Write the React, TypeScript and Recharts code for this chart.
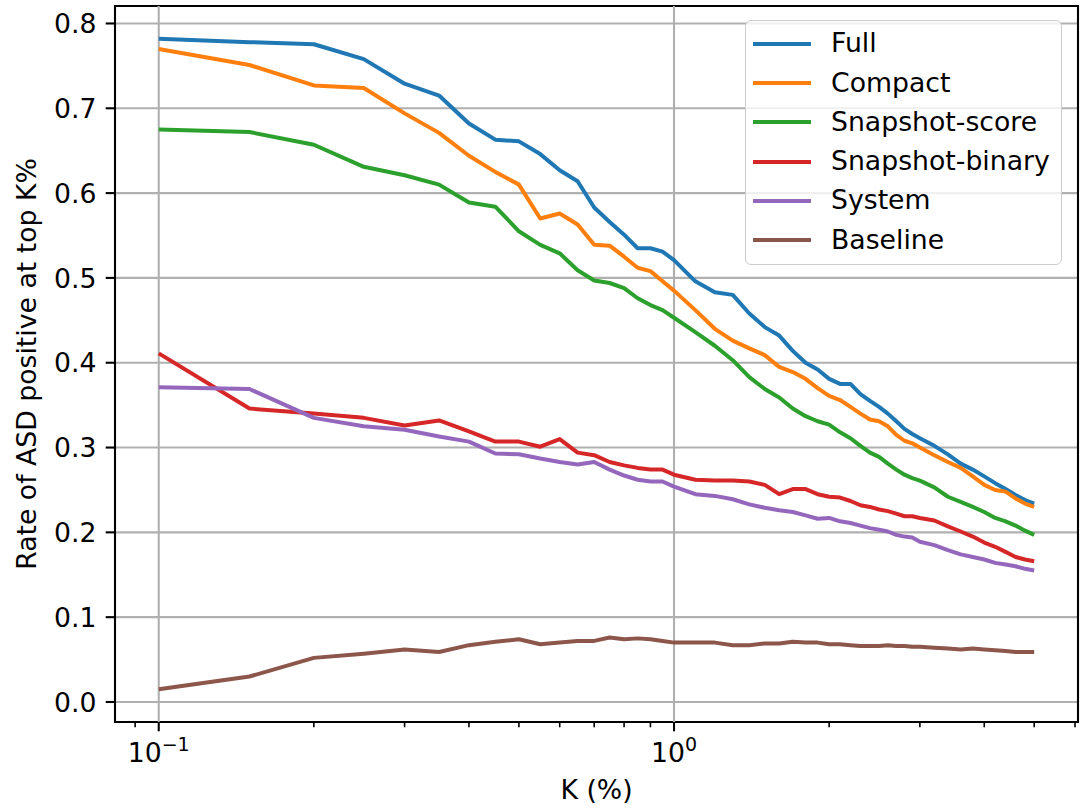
import React from 'react';
import {
  LineChart, Line, XAxis, YAxis, CartesianGrid, ReferenceLine, ReferenceArea, Legend, Label,
} from 'recharts';

// K (%) sample points
const kValues = [
  0.1, 0.15, 0.2, 0.25, 0.3, 0.35, 0.4, 0.45, 0.5, 0.55, 0.6, 0.65, 0.7, 0.75, 0.8, 0.85, 0.9, 0.95, 1.0,
  1.1, 1.2, 1.3, 1.4, 1.5, 1.6, 1.7, 1.8, 1.9, 2.0, 2.1, 2.2, 2.3, 2.4, 2.5, 2.6, 2.7, 2.8, 2.9, 3.0,
  3.2, 3.4, 3.6, 3.8, 4.0, 4.2, 4.4, 4.6, 4.8, 5.0,
];

const full = [
  0.782, 0.778, 0.7755, 0.758, 0.729, 0.715, 0.682, 0.663, 0.661, 0.646, 0.627, 0.614, 0.583, 0.566, 0.551, 0.535, 0.535, 0.531, 0.521,
  0.496, 0.483, 0.480, 0.458, 0.442, 0.432, 0.414, 0.400, 0.392, 0.381, 0.375, 0.375, 0.363, 0.355, 0.348, 0.340, 0.331, 0.322, 0.316, 0.311,
  0.302, 0.292, 0.281, 0.274, 0.266, 0.258, 0.251, 0.244, 0.238, 0.234,
];
const compact = [
  0.770, 0.751, 0.727, 0.724, 0.694, 0.671, 0.644, 0.625, 0.610, 0.570, 0.576, 0.563, 0.539, 0.538, 0.525, 0.512, 0.508, 0.496, 0.485,
  0.462, 0.440, 0.426, 0.417, 0.409, 0.395, 0.389, 0.381, 0.370, 0.361, 0.356, 0.348, 0.340, 0.333, 0.331, 0.325, 0.315, 0.308, 0.305, 0.300,
  0.291, 0.283, 0.276, 0.266, 0.256, 0.250, 0.248, 0.240, 0.234, 0.230,
];
const snapshotScore = [
  0.675, 0.672, 0.657, 0.631, 0.621, 0.610, 0.589, 0.584, 0.555, 0.539, 0.529, 0.509, 0.497, 0.494, 0.488, 0.476, 0.468, 0.462, 0.453,
  0.436, 0.420, 0.403, 0.383, 0.369, 0.359, 0.346, 0.337, 0.331, 0.327, 0.318, 0.311, 0.302, 0.294, 0.289, 0.281, 0.274, 0.268, 0.264, 0.261,
  0.253, 0.242, 0.236, 0.230, 0.224, 0.217, 0.213, 0.208, 0.202, 0.197,
];
const snapshotBinary = [
  0.411, 0.346, 0.340, 0.335, 0.326, 0.332, 0.319, 0.307, 0.307, 0.301, 0.310, 0.294, 0.291, 0.283, 0.279, 0.276, 0.274, 0.274, 0.268,
  0.262, 0.261, 0.261, 0.260, 0.256, 0.245, 0.251, 0.251, 0.245, 0.242, 0.241, 0.237, 0.232, 0.230, 0.227, 0.225, 0.222, 0.219, 0.219, 0.217,
  0.214, 0.207, 0.201, 0.195, 0.188, 0.183, 0.177, 0.171, 0.168, 0.166,
];
const system = [
  0.371, 0.369, 0.335, 0.325, 0.321, 0.313, 0.307, 0.293, 0.292, 0.287, 0.283, 0.280, 0.283, 0.274, 0.267, 0.262, 0.260, 0.260, 0.254,
  0.245, 0.243, 0.239, 0.233, 0.229, 0.226, 0.224, 0.220, 0.216, 0.217, 0.213, 0.211, 0.208, 0.205, 0.203, 0.201, 0.197, 0.195, 0.194, 0.189,
  0.185, 0.179, 0.174, 0.171, 0.168, 0.164, 0.162, 0.160, 0.157, 0.155,
];
const baseline = [
  0.015, 0.030, 0.052, 0.057, 0.062, 0.059, 0.067, 0.071, 0.074, 0.068, 0.070, 0.072, 0.072, 0.076, 0.074, 0.075, 0.074, 0.072, 0.070,
  0.070, 0.070, 0.067, 0.067, 0.069, 0.069, 0.071, 0.070, 0.070, 0.068, 0.068, 0.067, 0.066, 0.066, 0.066, 0.067, 0.066, 0.066, 0.065, 0.065,
  0.064, 0.063, 0.062, 0.063, 0.062, 0.061, 0.060, 0.059, 0.059, 0.059,
];

const seriesNames = ['Full', 'Compact', 'Snapshot-score', 'Snapshot-binary', 'System', 'Baseline'];
const seriesKeys = ['full', 'compact', 'snapshotScore', 'snapshotBinary', 'system', 'baseline'];
const seriesColors = ['#1f77b4', '#ff7f0e', '#2ca02c', '#d62728', '#9467bd', '#8c564b'];

const majorXTicks = [0.1, 1];
const minorXTicks = [0.09, 0.2, 0.3, 0.4, 0.5, 0.6, 0.7, 0.8, 0.9, 2, 3, 4, 5, 6];
const yTicks = [0, 0.1, 0.2, 0.3, 0.4, 0.5, 0.6, 0.7, 0.8];

const X_DOMAIN = [0.08225, 6.081];
const Y_DOMAIN = [-0.0236, 0.8206];

const data = kValues.map((k, i) => ({
  k,
  full: full[i],
  compact: compact[i],
  snapshotScore: snapshotScore[i],
  snapshotBinary: snapshotBinary[i],
  system: system[i],
  baseline: baseline[i],
}));

const FONT = '"DejaVu Sans", Verdana, sans-serif';
const FS = 26.7;
const MAJOR = 9.3;
const MINOR = 5.3;
const GRID = '#b0b0b0';

function XTick(props: any) {
  const { x, y, payload } = props;
  const v = payload.value;
  if (!majorXTicks.includes(v)) {
    return <line x1={x} x2={x} y1={y} y2={y + MINOR} stroke="#000" strokeWidth={1.6} />;
  }
  const exp = Math.round(Math.log10(v));
  const expText = exp < 0 ? '\u2212' + Math.abs(exp) : String(exp);
  return (
    <g>
      <line x1={x} x2={x} y1={y} y2={y + MAJOR} stroke="#000" strokeWidth={2.1} />
      <text x={x} y={y + 40} textAnchor="middle" fontFamily={FONT} fontSize={FS} fill="#000">
        <tspan>10</tspan>
        <tspan dy={-11} fontSize={19}>{expText}</tspan>
      </text>
    </g>
  );
}

function YTick(props: any) {
  const { x, y, payload } = props;
  return (
    <g>
      <line x1={x - MAJOR} x2={x} y1={y} y2={y} stroke="#000" strokeWidth={2.1} />
      <text x={x - 2 * MAJOR} y={y} dy={9.7} textAnchor="end" fontFamily={FONT} fontSize={FS} fill="#000">
        {Number(payload.value).toFixed(1)}
      </text>
    </g>
  );
}

function LegendBox({ payload }: any) {
  const items = [...(payload || [])].sort(
    (a: any, b: any) => seriesNames.indexOf(a.value) - seriesNames.indexOf(b.value),
  );
  return (
    <div
      style={{
        background: 'rgba(255,255,255,0.8)',
        border: '1.5px solid #cccccc',
        borderRadius: 6,
        padding: '3px 0 4px 7px',
        width: 317,
        boxSizing: 'border-box',
        fontFamily: FONT,
        fontSize: FS,
      }}
    >
      {items.map((e: any) => (
        <div key={e.value} style={{ display: 'flex', alignItems: 'center', height: 39.3 }}>
          <div style={{ width: 58, height: 4, background: e.color, marginRight: 20, flex: 'none' }} />
          <div style={{ color: '#000', lineHeight: 1, whiteSpace: 'nowrap' }}>{e.value}</div>
        </div>
      ))}
    </div>
  );
}

export default function App() {
  return (
    <div style={{ position: 'absolute', left: 0, top: 0, width: 1088, height: 808, background: '#fff' }}>
      <LineChart width={1088} height={808} data={data} margin={{ top: 6, right: 10, bottom: 0, left: 0 }}>
        <CartesianGrid vertical={false} stroke={GRID} strokeWidth={2.1} />
        {majorXTicks.map((t) => (
          <ReferenceLine key={t} x={t} stroke={GRID} strokeWidth={2.1} />
        ))}
        <XAxis
          dataKey="k"
          type="number"
          scale="log"
          domain={X_DOMAIN}
          allowDataOverflow
          ticks={[...majorXTicks, ...minorXTicks]}
          interval={0}
          tickSize={0}
          tickMargin={0}
          tickLine={false}
          axisLine={false}
          tick={XTick}
          height={86}
        >
          <Label
            content={({ viewBox }: any) => (
              <text
                x={(viewBox?.x ?? 115) + (viewBox?.width ?? 963) / 2}
                y={(viewBox?.y ?? 722) + 77}
                textAnchor="middle"
                fontFamily={FONT}
                fontSize={FS}
                fill="#000"
              >
                K (%)
              </text>
            )}
          />
        </XAxis>
        <YAxis
          type="number"
          domain={Y_DOMAIN}
          allowDataOverflow
          ticks={yTicks}
          interval={0}
          tickSize={0}
          tickMargin={0}
          tickLine={false}
          axisLine={false}
          tick={YTick}
          width={115}
        >
          <Label
            content={({ viewBox }: any) => {
              const cx = (viewBox?.x ?? 0) + 36;
              const cy = (viewBox?.y ?? 6) + (viewBox?.height ?? 716) / 2;
              return (
                <text
                  x={cx}
                  y={cy}
                  transform={`rotate(-90, ${cx}, ${cy})`}
                  textAnchor="middle"
                  fontFamily={FONT}
                  fontSize={FS}
                  fill="#000"
                >
                  Rate of ASD positive at top K%
                </text>
              );
            }}
          />
        </YAxis>
        <ReferenceArea
          x1={X_DOMAIN[0]}
          x2={X_DOMAIN[1]}
          y1={Y_DOMAIN[0]}
          y2={Y_DOMAIN[1]}
          fill="none"
          stroke="#000"
          strokeWidth={2.1}
          ifOverflow="visible"
        />
        {seriesKeys.map((key, i) => (
          <Line
            key={key}
            type="linear"
            dataKey={key}
            name={seriesNames[i]}
            stroke={seriesColors[i]}
            strokeWidth={4}
            strokeLinejoin="round"
            dot={false}
            activeDot={false}
            isAnimationActive={false}
          />
        ))}
        <Legend
          layout="vertical"
          align="center"
          verticalAlign="middle"
          wrapperStyle={{ left: 745, top: 20, width: 317 }}
          content={LegendBox}
        />
      </LineChart>
    </div>
  );
}
